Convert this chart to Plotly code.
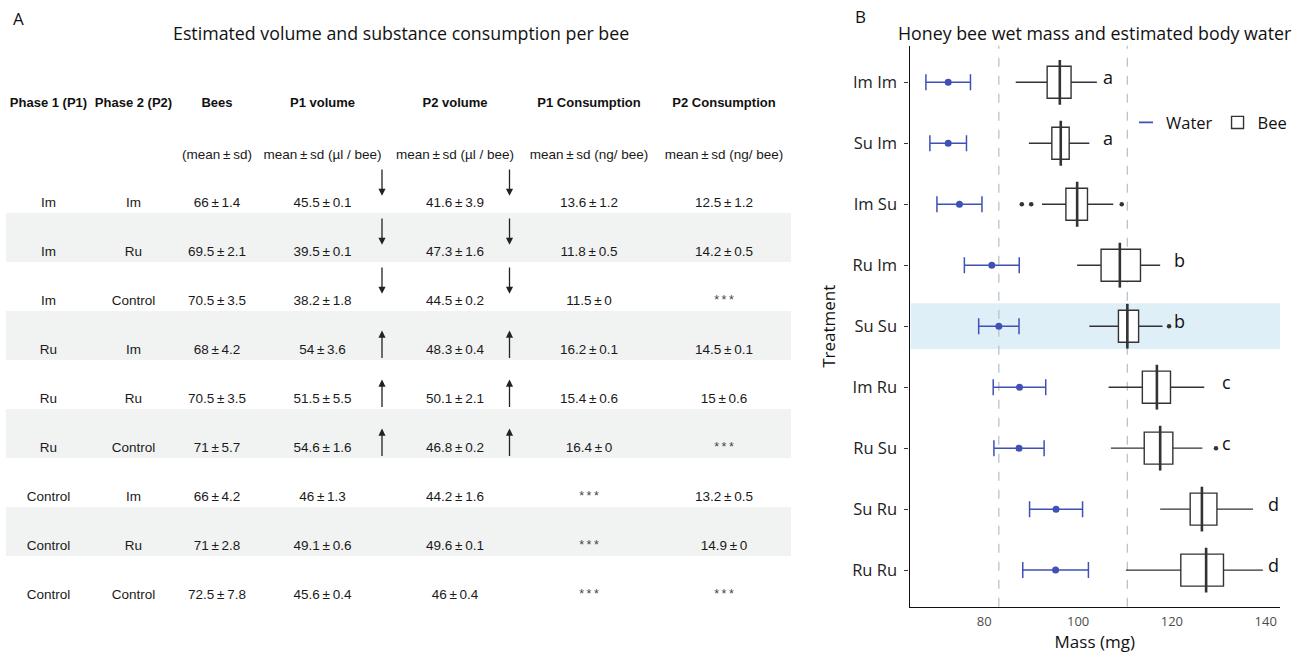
import plotly.graph_objects as go

# ---------------- Panel A: table data ----------------
phase1 = ["Im", "Im", "Im", "Ru", "Ru", "Ru", "Control", "Control", "Control"]
phase2 = ["Im", "Ru", "Control", "Im", "Ru", "Control", "Im", "Ru", "Control"]
bees_mean = [66, 69.5, 70.5, 68, 70.5, 71, 66, 71, 72.5]
bees_sd = [1.4, 2.1, 3.5, 4.2, 3.5, 5.7, 4.2, 2.8, 7.8]
p1_vol_mean = [45.5, 39.5, 38.2, 54, 51.5, 54.6, 46, 49.1, 45.6]
p1_vol_sd = [0.1, 0.1, 1.8, 3.6, 5.5, 1.6, 1.3, 0.6, 0.4]
p2_vol_mean = [41.6, 47.3, 44.5, 48.3, 50.1, 46.8, 44.2, 49.6, 46]
p2_vol_sd = [3.9, 1.6, 0.2, 0.4, 2.1, 0.2, 1.6, 0.1, 0.4]
p1_cons_mean = [13.6, 11.8, 11.5, 16.2, 15.4, 16.4, None, None, None]
p1_cons_sd = [1.2, 0.5, 0, 0.1, 0.6, 0, None, None, None]
p2_cons_mean = [12.5, 14.2, None, 14.5, 15, None, 13.2, 14.9, None]
p2_cons_sd = [1.2, 0.5, None, 0.1, 0.6, None, 0.5, 0, None]
volume_trend = ["down", "down", "down", "up", "up", "up", None, None, None]

header_titles = ["Phase 1 (P1)", "Phase 2 (P2)", "Bees", "P1 volume", "P2 volume",
                 "P1 Consumption", "P2 Consumption"]
header_units = ["", "", "(mean\u2009±\u2009sd)", "mean\u2009±\u2009sd (µl / bee)",
                "mean\u2009±\u2009sd (µl / bee)", "mean\u2009±\u2009sd (ng/ bee)",
                "mean\u2009±\u2009sd (ng/ bee)"]

# ---------------- Panel B: mass data ----------------
treatments = ["Im Im", "Su Im", "Im Su", "Ru Im", "Su Su", "Im Ru", "Ru Su", "Su Ru", "Ru Ru"]
control_treatment = "Su Su"
water_mean = [72.3, 72.3, 74.7, 81.6, 83.1, 87.5, 87.4, 95.3, 95.2]
water_sd = [4.75, 3.9, 4.8, 5.85, 4.3, 5.6, 5.35, 5.65, 7.0]
mass_lower = [86.7, 89.5, 92.3, 99.8, 102.4, 106.5, 107.0, 117.5, 110.2]
mass_q1 = [93.4, 94.4, 97.4, 104.9, 108.6, 113.7, 114.1, 123.9, 121.9]
mass_median = [96.1, 96.3, 99.8, 108.9, 110.5, 116.8, 117.5, 126.4, 127.3]
mass_q3 = [98.5, 98.1, 102.0, 113.3, 112.9, 119.7, 120.2, 129.6, 131.0]
mass_upper = [104.0, 102.4, 107.5, 117.5, 118.0, 126.9, 126.5, 137.3, 139.4]
outlier_treatment = ["Im Su", "Im Su", "Im Su", "Su Su", "Ru Su"]
outlier_mass = [88.0, 90.0, 109.3, 119.4, 129.4]
group_letters = ["a", "a", "", "b", "b", "c", "c", "d", "d"]

# ---------------- layout constants ----------------
W, H = 1306, 656
FONT_B = "Open Sans"
FONT_A = "Liberation Sans"
COL_X = [48.5, 133.5, 217, 322.5, 455, 589, 724]
ARROW_X = [382, 509.5]
TABLE_W = 810
HEADER_Y = -1.72
UNIT_Y = -0.68
TEXT_DY = 0.3
BAND_X = (6, 791)
LETTER_PAD = 2.3
BLUE = "#3F51B5"
DARK = "#333333"


def fmt(m, s):
    if m is None:
        return "*\u2009*\u2009*"
    return f"{m:g}\u2009±\u2009{s:g}"


fig = go.Figure()

# ---------- Table (panel A) ----------
n_rows = len(phase1)
columns = [
    phase1,
    phase2,
    [fmt(m, s) for m, s in zip(bees_mean, bees_sd)],
    [fmt(m, s) for m, s in zip(p1_vol_mean, p1_vol_sd)],
    [fmt(m, s) for m, s in zip(p2_vol_mean, p2_vol_sd)],
    [fmt(m, s) for m, s in zip(p1_cons_mean, p1_cons_sd)],
    [fmt(m, s) for m, s in zip(p2_cons_mean, p2_cons_sd)],
]
bx, by, bt, bs, bc = [], [], [], [], []
for ci, col in enumerate(columns):
    for ri, txt in enumerate(col):
        bx.append(COL_X[ci])
        by.append(ri + TEXT_DY)
        bt.append(txt)
        star = txt.startswith("*")
        bs.append(12.5 if star else 13.5)
        bc.append("#444444" if star else "#1a1a1a")

fig.add_trace(go.Scatter(
    x=COL_X, y=[HEADER_Y] * len(COL_X), text=[f"<b>{t}</b>" for t in header_titles],
    mode="text", textfont=dict(family=FONT_A, size=13, color="#111111"),
    xaxis="x", yaxis="y", showlegend=False, hoverinfo="skip"))
fig.add_trace(go.Scatter(
    x=COL_X, y=[UNIT_Y] * len(COL_X), text=header_units,
    mode="text", textfont=dict(family=FONT_A, size=13.5, color="#1a1a1a"),
    xaxis="x", yaxis="y", showlegend=False, hoverinfo="skip"))
fig.add_trace(go.Scatter(
    x=bx, y=by, text=bt, mode="text",
    textfont=dict(family=FONT_A, size=bs, color=bc),
    xaxis="x", yaxis="y", showlegend=False, hoverinfo="skip"))

shapes = []
annotations = []
for ri in range(n_rows):
    if ri % 2 == 1:
        shapes.append(dict(type="rect", xref="x", yref="y", x0=BAND_X[0], x1=BAND_X[1],
                           y0=ri - 0.5, y1=ri + 0.5, fillcolor="#f1f2f2",
                           line=dict(width=0), layer="below"))
    trend = volume_trend[ri]
    if trend is None:
        continue
    if trend == "down":
        tail, tip = ri - 0.42, ri + 0.15
    else:
        tail, tip = ri + 0.49, ri - 0.1
    for axx in ARROW_X:
        annotations.append(dict(x=axx, y=tip, ax=axx, ay=tail, xref="x", yref="y",
                                axref="x", ayref="y", text="", showarrow=True,
                                arrowhead=2, arrowsize=1.1, arrowwidth=1.3,
                                arrowcolor="#222222"))

# ---------- Mass plot (panel B) ----------
ctrl_idx = treatments.index(control_treatment)

fig.add_trace(go.Scatter(
    x=water_mean, y=treatments, mode="markers",
    marker=dict(color=BLUE, size=7),
    error_x=dict(type="data", array=water_sd, color=BLUE, thickness=1.5, width=8),
    xaxis="x2", yaxis="y2", showlegend=False, name="Water"))

fig.add_trace(go.Scatter(
    x=[None], y=[None], mode="markers", name="Water",
    marker=dict(symbol="line-ew-open", size=10, color=BLUE, line=dict(color=BLUE, width=1.6)),
    xaxis="x2", yaxis="y2", showlegend=True))

fig.add_trace(go.Box(
    y=treatments, q1=mass_q1, median=mass_median, q3=mass_q3,
    lowerfence=mass_lower, upperfence=mass_upper, orientation="h",
    name="Bee", fillcolor="white", line=dict(color=DARK, width=1.4),
    whiskerwidth=0, boxpoints=False, xaxis="x2", yaxis="y2", showlegend=True,
    hoverinfo="skip"))

# thick median bars (line symbol length = 1.4 * size)
fig.add_trace(go.Scatter(
    x=mass_median, y=treatments, mode="markers",
    marker=dict(symbol="line-ns-open", size=32, color=DARK, line=dict(color=DARK, width=2.6)),
    xaxis="x2", yaxis="y2", showlegend=False, hoverinfo="skip"))

fig.add_trace(go.Scatter(
    x=outlier_mass, y=outlier_treatment, mode="markers",
    marker=dict(color=DARK, size=4.5),
    xaxis="x2", yaxis="y2", showlegend=False, hoverinfo="skip"))

# group letters, placed right of the largest value in each letter group
group_max = {}
for t, L, up in zip(treatments, group_letters, mass_upper):
    if not L:
        continue
    vals = [up] + [m for ot, m in zip(outlier_treatment, outlier_mass) if ot == t]
    group_max[L] = max(group_max.get(L, -1e9), max(vals))
for t, L in zip(treatments, group_letters):
    if not L:
        continue
    annotations.append(dict(x=group_max[L] + LETTER_PAD, y=t, xref="x2", yref="y2",
                            text=L, showarrow=False, yshift=5,
                            font=dict(family=FONT_B, size=18, color="#111111")))

# highlight control row and reference lines
shapes.append(dict(type="rect", xref="x2 domain", yref="y2", x0=0.003, x1=1,
                   y0=ctrl_idx - 0.375, y1=ctrl_idx + 0.375,
                   fillcolor="#dfeff7", line=dict(width=0), layer="below"))
for v in (water_mean[ctrl_idx], mass_median[ctrl_idx]):
    shapes.append(dict(type="line", xref="x2", yref="y2 domain", x0=v, x1=v, y0=0, y1=1,
                       line=dict(color="#b9c4cc", width=1.3, dash="dash"), layer="below"))


def paper_text(px, py, text, size=17):
    return dict(x=px / W, y=1 - py / H, xref="paper", yref="paper", text=text,
                showarrow=False, xanchor="center", yanchor="middle",
                font=dict(family=FONT_B, size=size, color="#111111"))


annotations += [
    paper_text(18, 18, "A"),
    paper_text(401, 33, "Estimated volume and substance consumption per bee", 17.8),
    paper_text(860, 17, "B"),
    paper_text(1094, 33, "Honey bee wet mass and estimated body water", 17.8),
]

fig.update_layout(
    width=W, height=H,
    margin=dict(l=0, r=0, t=0, b=0),
    paper_bgcolor="white", plot_bgcolor="rgba(0,0,0,0)",
    boxgap=0.25,
    xaxis=dict(domain=[0, TABLE_W / W], range=[0, TABLE_W], visible=False, fixedrange=True),
    yaxis=dict(domain=[0, 1], range=[(H - 188.5) / 49, -188.5 / 49], visible=False,
               fixedrange=True),
    xaxis2=dict(domain=[909.5 / W, 1280 / W], range=[64.05, 143.05], anchor="y2",
                showgrid=False, zeroline=False, showline=True, linecolor="#111111",
                linewidth=1.3, tickvals=[80, 100, 120, 140], ticks="outside", ticklen=3,
                tickcolor="rgba(0,0,0,0)",
                tickfont=dict(family=FONT_B, size=13, color="#4d4d4d"),
                title=dict(text="Mass (mg)", font=dict(family=FONT_B, size=17, color="#111111"),
                           standoff=2)),
    yaxis2=dict(domain=[1 - 606.7 / H, 1 - 45.7 / H], anchor="x2", type="category",
                categoryorder="array", categoryarray=treatments,
                range=[len(treatments) - 1 + 0.6, -0.6],
                showgrid=False, zeroline=False, showline=True, linecolor="#111111",
                linewidth=1.3, ticks="outside", ticklen=4, tickcolor="#333333",
                ticklabelstandoff=4,
                tickfont=dict(family=FONT_B, size=16.5, color="#222222"),
                title=dict(text="Treatment", font=dict(family=FONT_B, size=17, color="#111111"),
                           standoff=12)),
    legend=dict(orientation="h", x=1126 / W, y=1 - 122.7 / H, xanchor="left",
                yanchor="middle", bgcolor="rgba(0,0,0,0)",
                font=dict(family=FONT_B, size=16.5, color="#111111"),
                traceorder="normal"),
    shapes=shapes,
    annotations=annotations,
    hovermode=False,
)

fig.write_html("out.html")
